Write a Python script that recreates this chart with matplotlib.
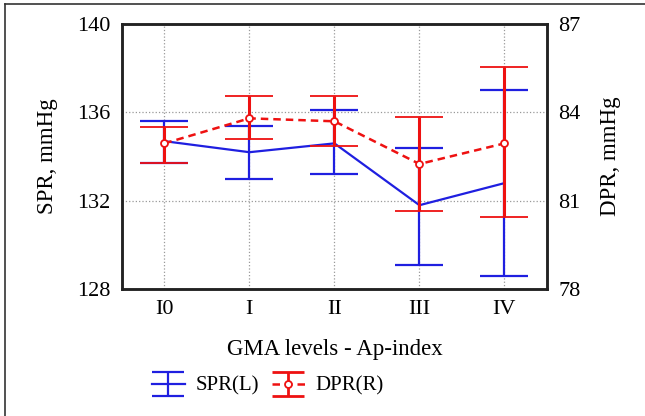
import matplotlib.pyplot as plt
import numpy as np
from matplotlib.lines import Line2D
from matplotlib.path import Path
from matplotlib.legend_handler import HandlerTuple

levels = ["I0", "I", "II", "III", "IV"]

# SPR (left axis), mmHg
spr_mean = [134.7, 134.2, 134.6, 131.8, 132.8]
spr_upper = [135.6, 135.4, 136.1, 134.4, 137.0]
spr_lower = [133.7, 133.0, 133.2, 129.1, 128.6]

# DPR (right axis), mmHg
dpr_mean = [82.95, 83.8, 83.7, 82.25, 82.95]
dpr_upper = [83.5, 84.55, 84.55, 83.85, 85.55]
dpr_lower = [82.3, 83.1, 82.85, 80.65, 80.45]

BLUE = "#1f1fe0"
RED = "#ee1111"
DASH = (0, (3, 2))

plt.rcParams["font.family"] = ["Liberation Serif", "DejaVu Serif"]
plt.rcParams["font.size"] = 16

fig = plt.figure(figsize=(6.45, 4.16), dpi=100)
ax = fig.add_axes([0.189, 0.305, 0.659, 0.637])
ax2 = ax.twinx()

x = np.arange(len(levels))
spr_mean = np.array(spr_mean)
dpr_mean = np.array(dpr_mean)
spr_err = [spr_mean - np.array(spr_lower), np.array(spr_upper) - spr_mean]
dpr_err = [dpr_mean - np.array(dpr_lower), np.array(dpr_upper) - dpr_mean]

ax.errorbar(x, spr_mean, yerr=spr_err, color=BLUE, linewidth=1.6,
            elinewidth=1.6, capsize=17, capthick=1.6, zorder=3)
ax2.errorbar(x, dpr_mean, yerr=dpr_err, color=RED, linewidth=1.8,
             linestyle=DASH, elinewidth=2.2, capsize=17, capthick=2.2,
             marker="o", markersize=5, markerfacecolor="white",
             markeredgecolor=RED, markeredgewidth=1.3, zorder=3)

ax.set_xlim(-0.5, 4.5)
ax.set_ylim(128, 140)
ax.set_yticks([128, 132, 136, 140])
ax2.set_ylim(78, 87)
ax2.set_yticks([78, 81, 84, 87])
ax.set_xticks(x)
ax.set_xticklabels(levels)

ax.grid(True, color="#999999", linestyle=":", linewidth=0.9)
ax.set_axisbelow(True)
for a in (ax, ax2):
    a.tick_params(length=0, pad=8, labelsize=16)
    for s in a.spines.values():
        s.set_linewidth(1.8)
        s.set_color("#222222")

ax.set_ylabel("SPR, mmHg", labelpad=14, fontsize=16.5)
ax2.set_ylabel("DPR, mmHg", labelpad=14, fontsize=16.5)
ax.set_xlabel("GMA levels - Ap-index", labelpad=14, fontsize=16.5)

# legend glyph: a bar with two wide caps
cap_path = Path([(-1.3, 1), (1.3, 1), (0, 1), (0, -1), (-1.3, -1), (1.3, -1)],
                [Path.MOVETO, Path.LINETO, Path.MOVETO, Path.LINETO,
                 Path.MOVETO, Path.LINETO])
spr_line = Line2D([], [], color=BLUE, linewidth=1.6)
spr_caps = Line2D([], [], color=BLUE, marker=cap_path, markersize=23,
                  markerfacecolor="none", markeredgewidth=1.6, linestyle="none")
dpr_line = Line2D([], [], color=RED, linewidth=1.8, linestyle=DASH)
dpr_caps = Line2D([], [], color=RED, marker=cap_path, markersize=23,
                  markerfacecolor="none", markeredgewidth=2.0, linestyle="none")
dpr_dot = Line2D([], [], color=RED, marker="o", markersize=5,
                 markerfacecolor="white", markeredgewidth=1.3, linestyle="none")

fig.legend([(spr_line, spr_caps), (dpr_line, dpr_caps, dpr_dot)],
           ["SPR(L)", "DPR(R)"], loc="center",
           bbox_to_anchor=(0.415, 0.072), ncol=2, frameon=False,
           handler_map={tuple: HandlerTuple(ndivide=1, pad=0)},
           handlelength=1.6, handletextpad=0.5, columnspacing=0.6,
           fontsize=15)

# outer frame (left and top edges visible)
fig.add_artist(Line2D([0.007, 0.007], [0.0, 0.99], transform=fig.transFigure,
                      color="#333333", linewidth=1.2))
fig.add_artist(Line2D([0.007, 1.0], [0.99, 0.99], transform=fig.transFigure,
                      color="#333333", linewidth=1.2))

fig.savefig("out.png", dpi=100)
